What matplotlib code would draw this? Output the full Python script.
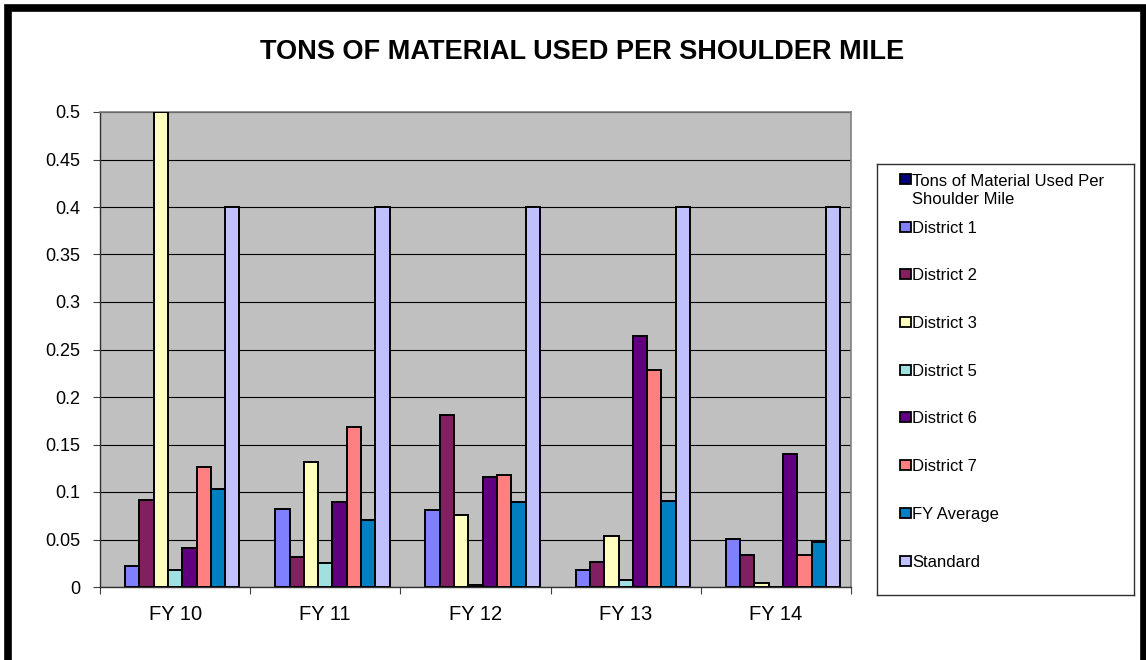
import numpy as np
import matplotlib
matplotlib.use('Agg')
import matplotlib.pyplot as plt
import matplotlib.patches as mpatches

plt.rcParams['font.family'] = ['Liberation Sans', 'DejaVu Sans']

# data
years = ['FY 10', 'FY 11', 'FY 12', 'FY 13', 'FY 14']
tons = [np.nan, np.nan, np.nan, np.nan, np.nan]   # empty series, legend only
district1 = [0.022, 0.082, 0.081, 0.018, 0.051]
district2 = [0.092, 0.032, 0.181, 0.026, 0.034]
district3 = [0.5, 0.132, 0.076, 0.054, 0.004]
district5 = [0.018, 0.025, 0.002, 0.007, 0.0]
district6 = [0.041, 0.089, 0.116, 0.264, 0.140]
district7 = [0.126, 0.168, 0.118, 0.228, 0.034]
fy_average = [0.103, 0.071, 0.089, 0.091, 0.047]
standard = [0.4, 0.4, 0.4, 0.4, 0.4]

series_names = ['Tons of Material Used Per\nShoulder Mile', 'District 1', 'District 2',
                'District 3', 'District 5', 'District 6', 'District 7', 'FY Average', 'Standard']
series_vals = [tons, district1, district2, district3, district5, district6, district7,
               fy_average, standard]
colors = ['#000080', '#8080FF', '#802060', '#FFFFC0', '#A0E0E0', '#600080',
          '#FF8080', '#0080C0', '#C0C0FF']

W, H = 1146, 660
fig = plt.figure(figsize=(W / 100, H / 100), dpi=100)
fig.patch.set_facecolor('white')

# plot area in pixels: left 100, right 851, top 112, bottom 587
ax = fig.add_axes([100 / W, 1 - 587 / H, 751 / W, 475 / H])
ax.set_facecolor('#C0C0C0')

x = np.arange(len(years))
n = len(series_vals)
w = 1 / 10.5
for i, (vals, c, name) in enumerate(zip(series_vals, colors, series_names)):
    ax.bar(x + (i - (n - 1) / 2) * w, vals, width=w, color=c, edgecolor='black',
           linewidth=1.4, label=name, zorder=3)

ax.set_xlim(-0.5, len(years) - 0.5)
ax.set_ylim(0, 0.5)
ax.set_yticks(np.arange(0, 0.5001, 0.05))
ax.set_yticklabels(['0', '0.05', '0.1', '0.15', '0.2', '0.25', '0.3', '0.35', '0.4', '0.45', '0.5'])
ax.yaxis.grid(True, color='black', linewidth=0.8, zorder=1)
ax.set_axisbelow(True)

ax.set_xticks(x)
ax.set_xticklabels(years)
ax.set_xticks(np.arange(-0.5, len(years), 1), minor=True)
ax.tick_params(axis='x', which='major', length=0, pad=13, labelsize=14.5)
ax.tick_params(axis='x', which='minor', length=5, width=0.8, direction='out', color='#404040')
ax.tick_params(axis='y', length=5, width=0.8, direction='out', pad=9, labelsize=13,
               color='#404040')

for s in ['top', 'right']:
    ax.spines[s].set_color('#808080')
    ax.spines[s].set_linewidth(1.2)
for s in ['left', 'bottom']:
    ax.spines[s].set_color('#303030')
    ax.spines[s].set_linewidth(1.0)

fig.text(582 / W, 1 - 52 / H, 'TONS OF MATERIAL USED PER SHOULDER MILE',
         ha='center', va='center', fontsize=19.5, fontweight='bold')

# legend box drawn Excel-style: first (two-line) entry shares the even slot spacing
lax = fig.add_axes([877 / W, 1 - 595 / H, 257 / W, 431 / H])
lax.set_xlim(0, 257)
lax.set_ylim(431, 0)
lax.set_xticks([])
lax.set_yticks([])
for s in lax.spines.values():
    s.set_color('#303030')
    s.set_linewidth(1.0)
rows = [15.3] + [62.7 + 47.7 * k for k in range(n - 1)]
for yy, c, name in zip(rows, colors, series_names):
    lax.add_patch(mpatches.Rectangle((23, yy - 5), 10.5, 10, facecolor=c,
                                     edgecolor='black', linewidth=1.3))
    # baseline of the last line; extra lines sit 19 px apart
    lax.text(35.5, yy + 6 + 19 * name.count('\n'), name, fontsize=12, va='baseline',
             ha='left', linespacing=1.3)

# outer black border
border = mpatches.Rectangle((7.5 / W, -20 / H), (1144 - 7.5) / W, (H - 8 + 20) / H,
                            transform=fig.transFigure, fill=False, edgecolor='black',
                            linewidth=5.5, clip_on=False)
fig.patches.append(border)

fig.savefig('out.png', dpi=100)
